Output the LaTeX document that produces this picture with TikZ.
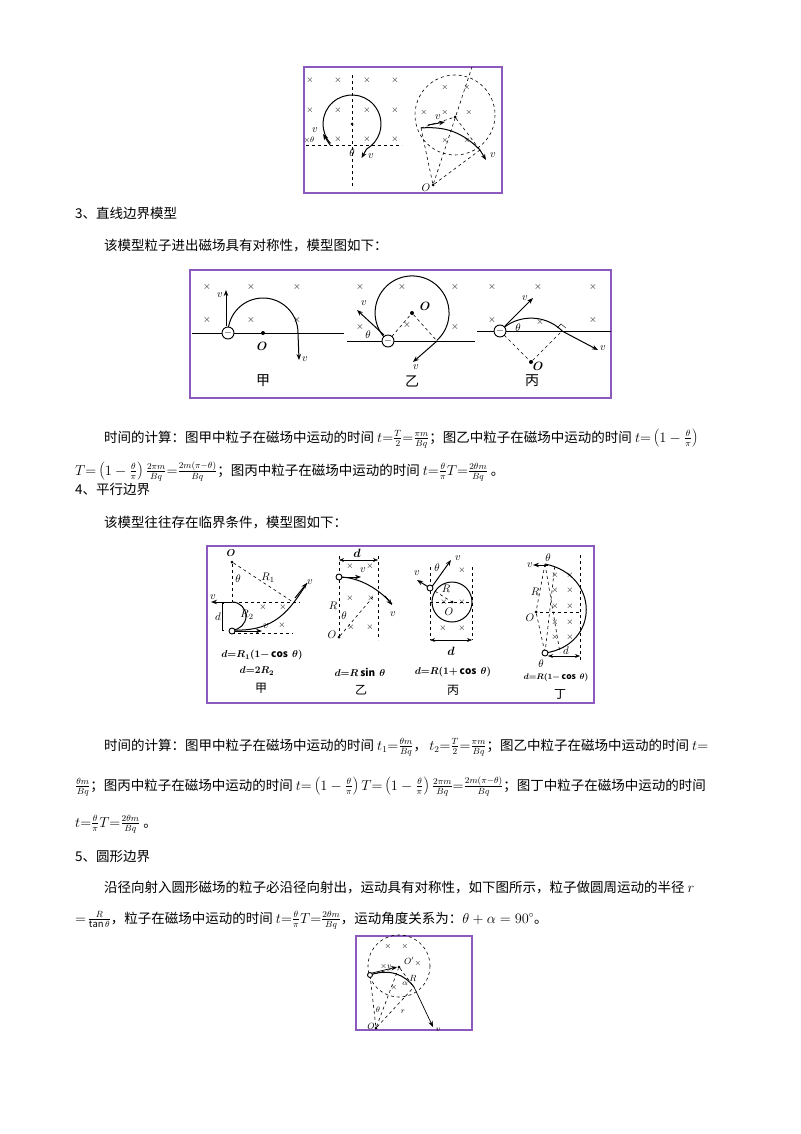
\documentclass[tikz,border=0pt]{standalone}
\usepackage{fontspec}
\setmainfont{Noto Sans CJK SC}
\usetikzlibrary{arrows.meta}
\definecolor{frm}{RGB}{140,90,190}
\newcommand{\crs}[2]{\node[font=\bfseries\fontsize{9}{9}\selectfont,inner sep=0pt] at (#1,#2) {$\times$};}
\begin{document}
\begin{tikzpicture}[x=1pt,y=-1pt,
  frame/.style={draw=frm,line width=1.1pt},
  dl/.style={dashed,line width=0.6pt},
  tr/.style={line width=1pt},
  ar/.style={line width=1pt,-{Stealth[length=6pt]}},
  txt/.style={anchor=base west,inner sep=0pt,font=\fontsize{13.5}{16}\selectfont},
  lb/.style={inner sep=0pt,font=\fontsize{11}{11}\selectfont,execute at begin node=$,execute at end node=$},
  blb/.style={lb,font=\boldmath\fontsize{12}{12}\selectfont},
  capt/.style={inner sep=0pt,font=\fontsize{14}{14}\selectfont},
  part/.style={circle,draw,line width=0.9pt,fill=white,inner sep=0pt,minimum size=12pt},
  dotn/.style={circle,fill,inner sep=0pt,minimum size=4pt},
  frm4/.style={inner sep=0pt,font=\boldmath\fontsize{10}{10}\selectfont}]
\useasboundingbox (0,0) rectangle (800,1134);
\fill[white] (0,0) rectangle (800,1134);

%% ---------- top figure
\draw[frame] (304,67) rectangle (502,193);
\foreach \x in {310,338,367,395}{\foreach \y in {80,110}{\crs{\x}{\y}}}
\foreach \x in {338,367,395}{\crs{\x}{139}}
\node[font=\fontsize{8}{8}\selectfont,inner sep=0pt] at (309,140) {$\times\theta$};
\draw[dl] (306,145) -- (402,145);
\draw[dl] (352,75) -- (352,188);
\node[dotn,minimum size=3pt] (c1) at (352,124) {};
\draw[tr] (352,124) ++(-222:29) arc[start angle=-222,end angle=60,radius=29] coordinate (e1);
\draw[ar] (e1) -- ++(-5,9);
\draw[ar] (330,145) -- (323,134);
\node[lb] at (315,130) {v};
\node[lb] at (371,156) {v};
\node[lb] at (352,153) {\theta};
\draw[dl] (455,115) circle (40);
\node[dotn,minimum size=3pt] (c2) at (455,117) {};
\node[dotn,minimum size=3pt] (O1) at (433,185) {};
\node[lb] at (426,188) {O};
\draw[dl] (O1) -- (472,67);
\coordinate (en) at (421,128);
\coordinate (ex) at (480,150);
\draw[dl] (O1) -- (en); \draw[dl] (O1) -- (ex);
\draw[dl] (en) -- (c2) -- (ex);
\draw[tr] (en) to[bend left=25] (ex);
\draw[ar] (ex) -- (486,160);
\draw[ar] (428,125) -- (445,122);
\node[lb] at (438,117) {v};
\node[lb] at (493,155) {v};
\foreach \p in {(445,88),(467,88),(424,113),(445,113),(469,113),(445,141),(467,141)}{\node[font=\fontsize{8}{8}\selectfont,inner sep=0pt] at \p {$\times$};}

%% ---------- text section 3
\node[txt] at (75,218) {3、直线边界模型};
\node[txt] at (104,250) {该模型粒子进出磁场具有对称性，模型图如下：};

%% ---------- section 3 figure
\draw[frame] (190,270) rectangle (611,398);
% jia
\foreach \p in {(207,287),(251,287),(297,287),(207,320),(251,320),(297,320)}{\node[font=\bfseries\fontsize{10}{10}\selectfont,inner sep=0pt] at \p {$\times$};}
\draw[line width=0.9pt] (192,333) -- (344,333);
\node[dotn] (Oa) at (263,333) {};
\node[blb] at (262,346) {O};
\draw[tr] (228,333) arc[start angle=180,end angle=360,radius=35];
\draw[ar] (298,333) -- (299,360);
\node[part] (pa) at (228,333) {$-$};
\draw[ar] (226,326) -- (226,290);
\node[lb] at (220,295) {v};
\node[lb] at (305,359) {v};
\node[capt] at (263,381) {甲};
% yi
\foreach \p in {(360,287),(402,287),(455,287),(360,327),(407,325),(455,327)}{\node[font=\bfseries\fontsize{10}{10}\selectfont,inner sep=0pt] at \p {$\times$};}
\draw[line width=0.9pt] (347,341) -- (475,341);
\node[dotn] (Ob) at (412,313) {};
\node[blb] at (425,306) {O};
\coordinate (yb) at (437,341);
\draw[dl] (388,341) -- (Ob) -- (yb);
\draw[tr] (388,341) arc[start angle=130.6,end angle=408,radius=37];
\draw[ar] (437,341) -- (413,362);
\node[part] (pb) at (388,341) {$-$};
\draw[ar] (384,335) -- (357,310);
\node[lb] at (364,303) {v};
\node[lb] at (416,367) {v};
\node[lb] at (368,335) {\theta};
\node[capt] at (412,381) {乙};
% bing
\foreach \p in {(492,287),(538,287),(593,287),(492,320),(540,322),(593,320)}{\node[font=\bfseries\fontsize{10}{10}\selectfont,inner sep=0pt] at \p {$\times$};}
\draw[line width=0.9pt] (477,331) -- (611,331);
\node[dotn] (Oc) at (531,362) {};
\node[blb] at (538,366) {O};
\draw[dl] (500,331) -- (Oc) -- (562,331);
\draw[tr] (500,331) arc[start angle=-135,end angle=-45,radius=44];
\draw[ar] (562,331) -- (598,350);
\draw (557,328) -- (561,324) -- (566,328);
\node[part] (pc) at (500,331) {$-$};
\draw[ar] (505,326) -- (533,298);
\node[lb] at (525,298) {v};
\node[lb] at (603,348) {v};
\node[lb] at (518,328) {\theta};
\node[capt] at (532,381) {丙};

%% ---------- text 3
\node[txt] at (104,442) {时间的计算：图甲中粒子在磁场中运动的时间 $t{=}\frac{T}{2}{=}\frac{\pi m}{Bq}$；图乙中粒子在磁场中运动的时间 $t{=}\left(1-\frac{\theta}{\pi}\right)$};
\node[txt] at (75,475) {$T{=}\left(1-\frac{\theta}{\pi}\right)\frac{2\pi m}{Bq}{=}\frac{2m(\pi-\theta)}{Bq}$；图丙中粒子在磁场中运动的时间 $t{=}\frac{\theta}{\pi}T{=}\frac{2\theta m}{Bq}$ 。};
\node[txt] at (75,494) {4、平行边界};
\node[txt] at (104,527) {该模型往往存在临界条件，模型图如下：};

%% ---------- section 4 figure
\draw[frame] (207,546) rectangle (594,703);
% jia
\node[dotn,minimum size=3pt] (Od) at (232,562) {};
\node[blb,font=\boldmath\fontsize{10}{10}\selectfont] at (231,553) {O};
\draw[dl] (Od) -- (232,602);
\draw[dl] (Od) -- (293,602);
\node[lb] at (268,578) {R_1};
\node[lb] at (238,579) {\theta};
\draw[dl] (215,602) -- (300,602);
\draw[dl] (232,633) -- (293,633);
\draw[ar] (232,602) -- (211,602);
\node[lb] at (213,597) {v};
\draw[tr] (232,602) arc[start angle=-90,end angle=90,radius=14];
\draw[tr] (232,630) .. controls (275,632) and (290,610) .. (307,583);
\draw[ar] (295,598) -- (307,583);
\draw[ar] (232,631) -- (262,631);
\node[lb] at (266,626) {v};
\node[lb] at (310,582) {v};
\node[lb] at (247,615) {R_2};
\node[lb] at (218,617) {d};
\draw (224,603) -- (222,603) -- (222,630) -- (224,630);
\node[part,minimum size=6pt] (pd) at (232,631) {};
\foreach \p in {(263,607),(283,607),(282,625)}{\node[font=\fontsize{9}{9}\selectfont,inner sep=0pt] at \p {$\times$};}
\node[frm4] at (262,655) {$d{=}R_1(1{-}\cos\ \theta)$};
\node[frm4] at (257,671) {$d{=}2R_2$};
\node[capt,font=\fontsize{12}{12}\selectfont] at (261,688) {甲};
% yi
\draw[{Stealth[length=5pt]}-{Stealth[length=5pt]}] (339,560) -- (378,560);
\node[blb] at (357,553) {d};
\draw[dl] (339,556) -- (339,636);
\draw[dl] (378,556) -- (378,640);
\node[dotn,minimum size=3pt] (Oe) at (339,637) {};
\node[lb] at (332,635) {O};
\draw[dl] (Oe) -- (373,597);
\node[lb] at (333,606) {R};
\node[lb] at (344,616) {\theta};
\draw[tr] (339,577) .. controls (360,577) and (380,590) .. (392,604);
\draw[ar] (385,596) -- (392,605);
\draw[ar] (341,577) -- (361,577);
\node[lb] at (363,570) {v};
\node[lb] at (393,614) {v};
\node[part,minimum size=6pt] (pe) at (339,577) {};
\foreach \p in {(350,566),(370,566),(350,598),(371,598),(351,627),(370,627)}{\node[font=\fontsize{9}{9}\selectfont,inner sep=0pt] at \p {$\times$};}
\node[frm4] at (360,672) {$d{=}R\sin\ \theta$};
\node[capt,font=\fontsize{12}{12}\selectfont] at (361,690) {乙};
% bing
\draw[dl] (430,567) -- (430,640);
\draw[dl] (472,567) -- (472,640);
\draw[dl] (430,602) -- (472,602);
\node[dotn,minimum size=3pt] (Of) at (452,602) {};
\node[lb] at (449,612) {O};
\draw[tr] (452,602) circle (20);
\draw[dl] (430,588) -- (Of);
\node[lb] at (446,589) {R};
\draw[ar] (431,588) -- (451,560);
\draw[ar] (430,588) -- (417,580);
\node[lb] at (458,558) {v};
\node[lb] at (417,573) {v};
\node[lb] at (437,568) {\theta};
\node[part,minimum size=6pt] (pf) at (430,588) {};
\draw[{Stealth[length=5pt]}-{Stealth[length=5pt]}] (430,640) -- (472,640);
\node[blb] at (451,651) {d};
\foreach \p in {(462,570),(444,602),(462,602),(443,628),(462,628)}{\node[font=\fontsize{9}{9}\selectfont,inner sep=0pt] at \p {$\times$};}
\node[frm4] at (453,672) {$d{=}R(1{+}\cos\ \theta)$};
\node[capt,font=\fontsize{12}{12}\selectfont] at (453,690) {丙};
% ding
\draw[dl] (580,555) -- (580,662);
\draw[dl] (540,612) -- (580,612);
\node[dotn,minimum size=3pt] (Og) at (536,612) {};
\node[lb] at (530,618) {O};
\coordinate (gt) at (545,564);
\coordinate (gb) at (545,653);
\draw[dl] (gt) -- (Og) -- (gb);
\draw[dl] (gt) -- (560,653);
\draw[dl] (gb) -- (555,564);
\draw[tr] (gt) .. controls (600,575) and (600,645) .. (gb);
\draw[ar] (548,565) -- (533,565);
\node[lb] at (530,565) {v};
\node[lb] at (548,558) {\theta};
\node[lb] at (535,592) {R};
\node[part,minimum size=6pt] (pg) at (gb) {};
\node[lb] at (541,664) {\theta};
\draw[{Stealth[length=5pt]}-{Stealth[length=5pt]}] (548,656) -- (580,656);
\node[lb] at (566,651) {d};
\foreach \y in {575,590,606,622,637}{\node[font=\fontsize{9}{9}\selectfont,inner sep=0pt] at (555,\y) {$\times$};\node[font=\fontsize{9}{9}\selectfont,inner sep=0pt] at (570,\y) {$\times$};}
\node[frm4,font=\boldmath\fontsize{8.5}{9}\selectfont] at (556,677) {$d{=}R(1{-}\cos\ \theta)$};
\node[capt,font=\fontsize{12}{12}\selectfont] at (560,694) {丁};

%% ---------- text 4
\node[txt] at (104,750) {时间的计算：图甲中粒子在磁场中运动的时间 $t_1{=}\frac{\theta m}{Bq}$，\,$t_2{=}\frac{T}{2}{=}\frac{\pi m}{Bq}$；图乙中粒子在磁场中运动的时间 $t{=}$};
\node[txt] at (75,790) {$\frac{\theta m}{Bq}$；图丙中粒子在磁场中运动的时间 $t{=}\left(1-\frac{\theta}{\pi}\right)T{=}\left(1-\frac{\theta}{\pi}\right)\frac{2\pi m}{Bq}{=}\frac{2m(\pi-\theta)}{Bq}$；图丁中粒子在磁场中运动的时间};
\node[txt] at (75,827) {$t{=}\frac{\theta}{\pi}T{=}\frac{2\theta m}{Bq}$ 。};
\node[txt] at (75,861) {5、圆形边界};
\node[txt] at (104,892) {沿径向射入圆形磁场的粒子必沿径向射出，运动具有对称性，如下图所示，粒子做圆周运动的半径 $r$};
\node[txt] at (75,923) {$=\!\frac{R}{\tan\theta}$，粒子在磁场中运动的时间 $t{=}\frac{\theta}{\pi}T{=}\frac{2\theta m}{Bq}$，运动角度关系为：$\theta+\alpha=90^\circ$。};

%% ---------- section 5 figure
\draw[frame] (356,936) rectangle (472,1030);
\draw[dl] (399,966) circle (31);
\node[dotn,minimum size=3pt] (Oh) at (399,967) {};
\node[lb,font=\fontsize{9}{9}\selectfont] at (409,961) {O'};
\node[dotn,minimum size=3pt] (Oi) at (376,1028) {};
\node[lb,font=\fontsize{9}{9}\selectfont] at (371,1026) {O};
\coordinate (sp) at (370,975);
\coordinate (sx) at (414,987);
\draw[dl] (sp) -- (Oi) -- (sx);
\draw[dl] (Oi) -- (Oh);
\draw[dl] (sp) -- (Oh) -- (sx);
\draw[tr] (sp) .. controls (390,968) and (405,975) .. (sx);
\draw[ar,line width=0.7pt] (sx) -- (433,1027);
\draw[ar,line width=0.7pt] (372,973) -- (397,967);
\node[lb,font=\fontsize{8}{8}\selectfont] at (386,966) {\times v};
\node[lb,font=\fontsize{9}{9}\selectfont] at (413,978) {R};
\node[lb,font=\fontsize{8}{8}\selectfont] at (405,984) {\alpha};
\node[lb,font=\fontsize{8}{8}\selectfont] at (378,1010) {\theta};
\node[lb,font=\fontsize{8}{8}\selectfont] at (403,1012) {r};
\node[lb,font=\fontsize{8}{8}\selectfont] at (438,1030) {v};
\node[part,minimum size=5pt] (ps) at (sp) {};
\foreach \p in {(388,946),(405,946),(418,963),(394,987)}{\node[font=\fontsize{8}{8}\selectfont,inner sep=0pt] at \p {$\times$};}
\end{tikzpicture}
\end{document}
